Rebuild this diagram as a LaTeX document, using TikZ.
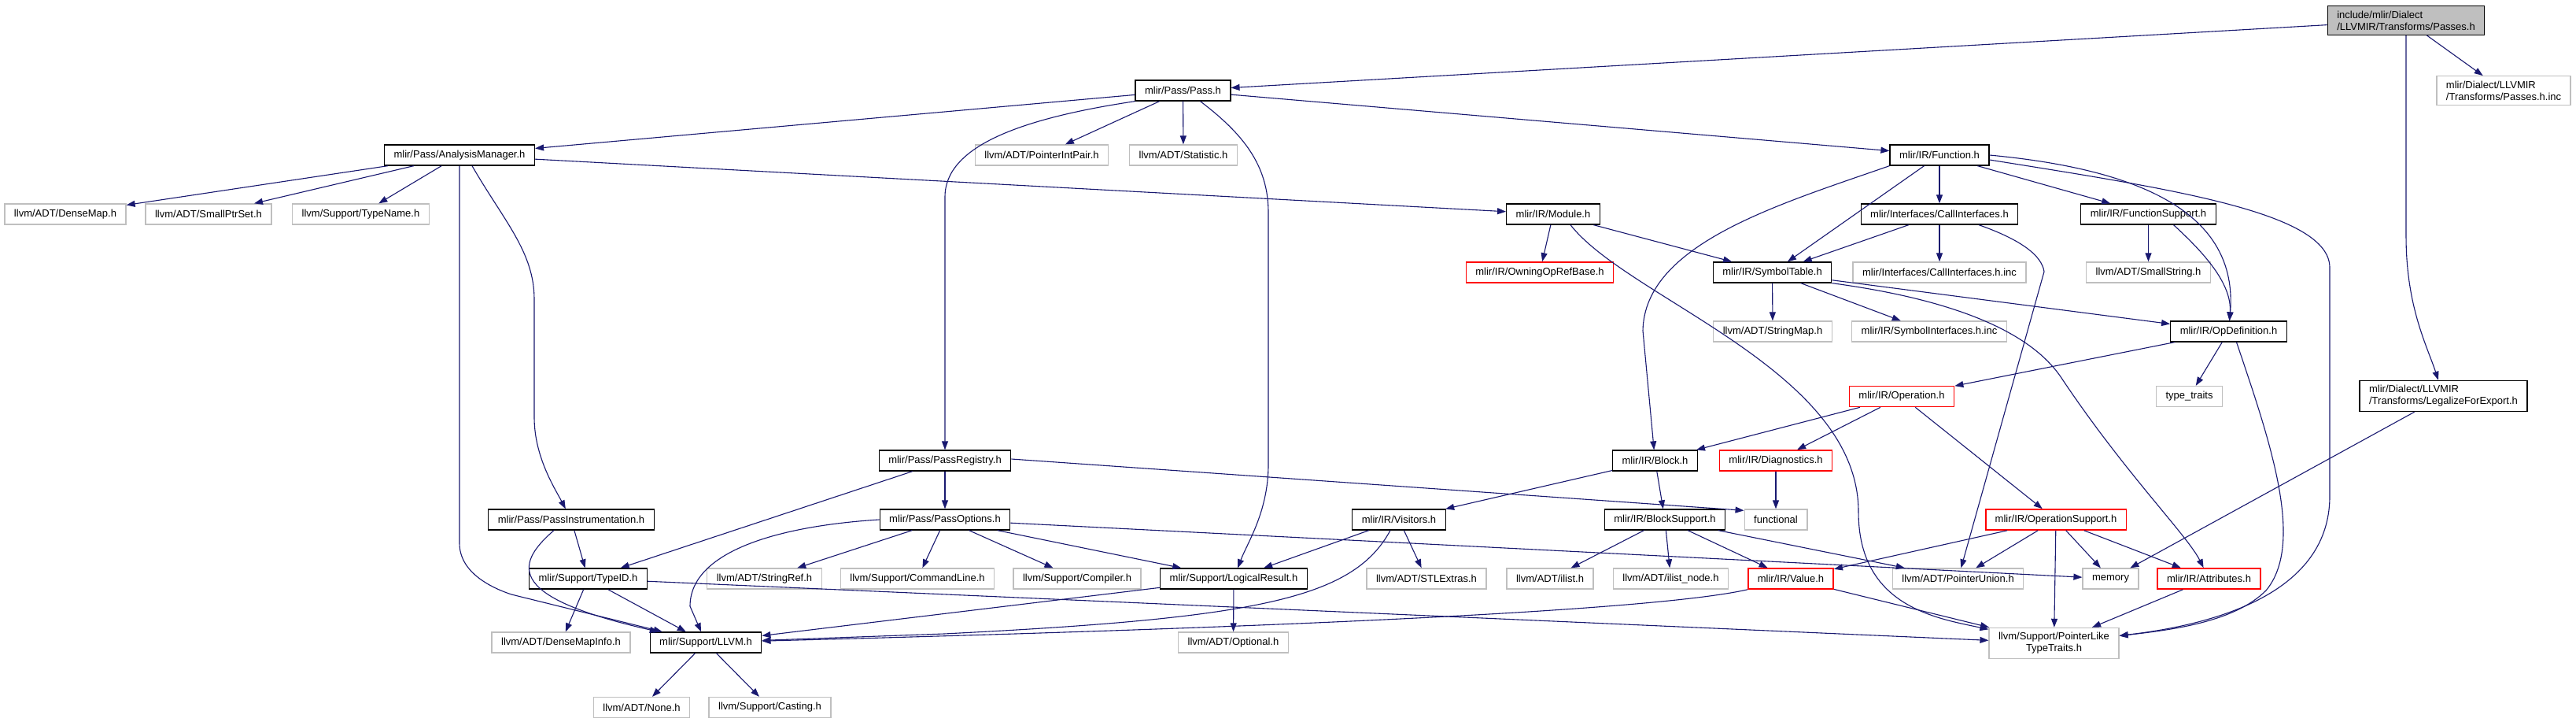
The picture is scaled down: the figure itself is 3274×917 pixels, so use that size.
\documentclass[tikz,border=0pt]{standalone}
\usepackage{fontspec}
\setmainfont{Liberation Sans}
\usepackage{tikz}
\usetikzlibrary{arrows.meta}
\definecolor{edgeblue}{HTML}{191970}
\definecolor{extgray}{HTML}{BFBFBF}

\begin{document}
\begin{tikzpicture}[x=1pt, y=-1pt,
    box/.style={rectangle, line width=1.3pt, inner xsep=12pt, inner ysep=3pt, minimum height=26pt, font=\fontsize{13}{15}\selectfont},
    doc/.style={box, draw=black},
    ext/.style={box, draw=extgray},
    trunc/.style={box, draw=red, line width=1.6pt},
    topfile/.style={box, draw=black, fill=extgray},
    twoline/.style={align=left, inner ysep=6pt},
    dep/.style={draw=edgeblue, line width=1.1pt, -{Triangle[length=11pt,width=8pt]}}]
	\path[use as bounding box, fill=white] (0,0) rectangle (3274,917);

	\node[topfile, twoline] (A) at (3058,26) {include/mlir/Dialect\\/LLVMIR/Transforms/Passes.h};
	\node[doc] (B) at (1503.5,115) {mlir/Pass/Pass.h};
	\node[ext, twoline] (C) at (3182,115) {mlir/Dialect/LLVMIR\\/Transforms/Passes.h.inc};
	\node[doc] (D) at (584,197) {mlir/Pass/AnalysisManager.h};
	\node[ext] (E) at (1324,197) {llvm/ADT/PointerIntPair.h};
	\node[ext] (F) at (1504,197) {llvm/ADT/Statistic.h};
	\node[doc] (G) at (2465,197) {mlir/IR/Function.h};
	\node[ext] (H) at (83,272) {llvm/ADT/DenseMap.h};
	\node[ext] (I) at (265,272) {llvm/ADT/SmallPtrSet.h};
	\node[ext] (J) at (458.5,272) {llvm/Support/TypeName.h};
	\node[doc] (K) at (1974,272) {mlir/IR/Module.h};
	\node[doc] (L) at (2465,272) {mlir/Interfaces/CallInterfaces.h};
	\node[doc] (M) at (2730.5,272) {mlir/IR/FunctionSupport.h};
	\node[trunc] (N) at (1957,346) {mlir/IR/OwningOpRefBase.h};
	\node[doc] (O) at (2252.5,346) {mlir/IR/SymbolTable.h};
	\node[ext] (P) at (2465,346) {mlir/Interfaces/CallInterfaces.h.inc};
	\node[ext] (Q) at (2730.5,346) {llvm/ADT/SmallString.h};
	\node[ext] (R) at (2253,421) {llvm/ADT/StringMap.h};
	\node[ext] (S) at (2452,421) {mlir/IR/SymbolInterfaces.h.inc};
	\node[doc] (T) at (2832.5,421) {mlir/IR/OpDefinition.h};
	\node[trunc] (U) at (2417,503.5) {mlir/IR/Operation.h};
	\node[ext] (V) at (2782.5,503.5) {type\_traits};
	\node[doc, twoline] (W) at (3105.5,503) {mlir/Dialect/LLVMIR\\/Transforms/LegalizeForExport.h};
	\node[doc] (X) at (1201,585) {mlir/Pass/PassRegistry.h};
	\node[doc] (Y) at (2103.5,585) {mlir/IR/Block.h};
	\node[trunc] (Z) at (2257,585) {mlir/IR/Diagnostics.h};
	\node[doc] (AA) at (726,660) {mlir/Pass/PassInstrumentation.h};
	\node[doc] (AB) at (1201,660) {mlir/Pass/PassOptions.h};
	\node[doc] (AC) at (1778,660) {mlir/IR/Visitors.h};
	\node[doc] (AD) at (2116,660) {mlir/IR/BlockSupport.h};
	\node[ext] (AE) at (2257,660) {functional};
	\node[trunc] (AF) at (2613,660) {mlir/IR/OperationSupport.h};
	\node[doc] (AG) at (747.5,735) {mlir/Support/TypeID.h};
	\node[ext] (AH) at (971.5,735) {llvm/ADT/StringRef.h};
	\node[ext] (AI) at (1166,735) {llvm/Support/CommandLine.h};
	\node[ext] (AJ) at (1369,735) {llvm/Support/Compiler.h};
	\node[doc] (AK) at (1568,735) {mlir/Support/LogicalResult.h};
	\node[ext] (AL) at (1813,735) {llvm/ADT/STLExtras.h};
	\node[ext] (AM) at (1970,735) {llvm/ADT/ilist.h};
	\node[ext] (AN) at (2123.5,735) {llvm/ADT/ilist\_node.h};
	\node[trunc] (AO) at (2276,735) {mlir/IR/Value.h};
	\node[ext] (AP) at (2488.6,735) {llvm/ADT/PointerUnion.h};
	\node[ext] (AQ) at (2682.5,735) {memory};
	\node[trunc] (AR) at (2807.5,735) {mlir/IR/Attributes.h};
	\node[ext] (AS) at (713,816) {llvm/ADT/DenseMapInfo.h};
	\node[doc] (AT) at (897,816) {mlir/Support/LLVM.h};
	\node[ext] (AU) at (1567.5,816) {llvm/ADT/Optional.h};
	\node[ext, align=center, inner ysep=6pt] (AV) at (2610.5,817) {llvm/Support/PointerLike\\TypeTraits.h};
	\node[ext] (AW) at (815.5,898.5) {llvm/ADT/None.h};
	\node[ext] (AX) at (978.5,898.5) {llvm/Support/Casting.h};

	\draw[dep] (A)--(B);
	\draw[dep] (A)--(C);
	\draw[dep] (A.south) -- (3058,300) .. controls (3058,390) and (3085,440) .. (W);
	\draw[dep] (B)--(D);
	\draw[dep] (B)--(E);
	\draw[dep] (B)--(F);
	\draw[dep] (B)--(G);
	\draw[dep] (B.south west) .. controls (1300,150) and (1201,185) .. (1201,250) -- (X);
	\draw[dep] ([xshift=22pt]B.south) .. controls (1580,170) and (1612,210) .. (1612,270) -- (1612,590) .. controls (1612,650) and (1585,690) .. (AK);
	\draw[dep] (D)--(H);
	\draw[dep] (D)--(I);
	\draw[dep] (D)--(J);
	\draw[dep] (D)--(K);
	\draw[dep] (D.south) -- (584,690) .. controls (584,725) and (620,745) .. (650,755) -- (AT);
	\draw[dep] ([xshift=16pt]D.south) .. controls (640,280) and (679,320) .. (679,380) -- (679,530) .. controls (679,580) and (705,620) .. (AA);
	\draw[dep] (G.south west) .. controls (2260,260) and (2090,310) .. (2088,420) -- (Y);
	\draw[dep] (G)--(O);
	\draw[dep] (G)--(L);
	\draw[dep] (G)--(M);
	\draw[dep] (G.east) .. controls (2720,215) and (2845,270) .. (T);
	\draw[dep] ([yshift=-6pt]G.east) .. controls (2760,240) and (2961,270) .. (2961,340) -- (2961,630) .. controls (2961,760) and (2800,795) .. (AV);
	\draw[dep] (K)--(N);
	\draw[dep] (K)--(O);
	\draw[dep] ([xshift=22pt]K.south) .. controls (2070,380) and (2362,470) .. (2362,650) .. controls (2362,770) and (2460,785) .. (AV);
	\draw[dep] (L)--(O);
	\draw[dep] (L)--(P);
	\draw[dep] ([xshift=50pt]L.south) .. controls (2570,305) and (2595,325) .. (2598,345) -- (AP);
	\draw[dep] (M)--(Q);
	\draw[dep] ([xshift=32pt]M.south) .. controls (2800,320) and (2837,360) .. (T);
	\draw[dep] (O)--(R);
	\draw[dep] (O)--(S);
	\draw[dep] (O)--(T);
	\draw[dep] (O.south east) .. controls (2480,380) and (2580,420) .. (2620,480) .. controls (2700,600) and (2780,680) .. (AR);
	\draw[dep] (T)--(U);
	\draw[dep] (T)--(V);
	\draw[dep] ([xshift=10pt]T.south) .. controls (2885,560) and (2930,690) .. (2880,750) .. controls (2840,790) and (2760,800) .. (AV);
	\draw[dep] (U)--(Y);
	\draw[dep] (U)--(Z);
	\draw[dep] (U)--(AF);
	\draw[dep] (W)--(AQ);
	\draw[dep] (X)--(AB);
	\draw[dep] (X)--(AG);
	\draw[dep] ([yshift=2pt]X.east) -- ([yshift=-2pt]AE.north west);
	\draw[dep] (Y)--(AC);
	\draw[dep] (Y)--(AD);
	\draw[dep] (Z)--(AE);
	\draw[dep] (AA)--(AG);
	\draw[dep] ([xshift=-22pt]AA.south) .. controls (650,720) and (650,760) .. (AT);
	\draw[dep] (AB)--(AH);
	\draw[dep] (AB)--(AI);
	\draw[dep] (AB)--(AJ);
	\draw[dep] (AB)--(AK);
	\draw[dep] (AB)--(AQ);
	\draw[dep] (AB.west) .. controls (990,668) and (877,700) .. (877,770) -- (AT);
	\draw[dep] (AC)--(AK);
	\draw[dep] (AC)--(AL);
	\draw[dep] ([xshift=-11pt]AC.south) .. controls (1720,760) and (1600,785) .. (1200,805) -- (AT);
	\draw[dep] (AD)--(AM);
	\draw[dep] (AD)--(AN);
	\draw[dep] (AD)--(AO);
	\draw[dep] (AD)--(AP);
	\draw[dep] (AF)--(AO);
	\draw[dep] (AF)--(AP);
	\draw[dep] (AF)--(AQ);
	\draw[dep] (AF)--(AR);
	\draw[dep] (AF)--(AV);
	\draw[dep] (AG)--(AS);
	\draw[dep] (AG)--(AT);
	\draw[dep] (AG)--(AV);
	\draw[dep] (AK)--(AU);
	\draw[dep] (AK)--(AT);
	\draw[dep] (AO.south west) .. controls (2150,765) and (1900,790) .. (AT);
	\draw[dep] (AO)--(AV);
	\draw[dep] (AR)--(AV);
	\draw[dep] (AT)--(AW);
	\draw[dep] (AT)--(AX);
\end{tikzpicture}
\end{document}
